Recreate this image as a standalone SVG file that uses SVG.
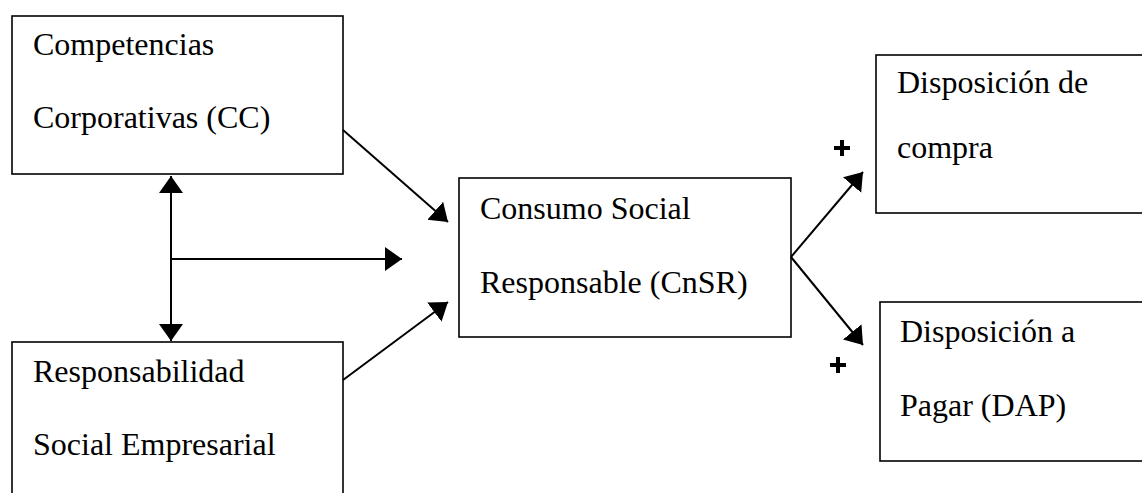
<svg xmlns="http://www.w3.org/2000/svg" width="1142" height="493" viewBox="0 0 1142 493">
<style>
.box{fill:none;stroke:#000;stroke-width:1.6}
.c{stroke:#000;stroke-width:2;fill:none}
</style>
<defs>
<marker id="ah" markerUnits="userSpaceOnUse" markerWidth="18" markerHeight="26" refX="17" refY="12" orient="auto-start-reverse" viewBox="0 0 18 26">
<path d="M0,0 L17,12 L0,24 z" fill="#000"/>
</marker>
</defs>
<rect width="1142" height="493" fill="#fff"/>
<g font-family="Liberation Serif, Times New Roman, serif" font-size="32" fill="#000">
<g id="cc">
<rect class="box" x="12" y="16" width="331" height="158"/>
<text x="33" y="55">Competencias</text>
<text x="33" y="128">Corporativas (CC)</text>
</g>
<g id="rse">
<rect class="box" x="12" y="342" width="331" height="170"/>
<text x="33" y="382">Responsabilidad</text>
<text x="33" y="455">Social Empresarial</text>
</g>
<g id="cnsr">
<rect class="box" x="459" y="178" width="332" height="159"/>
<text x="480" y="219">Consumo Social</text>
<text x="480" y="293">Responsable (CnSR)</text>
</g>
<g id="dc">
<rect class="box" x="876" y="55" width="280" height="158"/>
<text x="897" y="93">Disposición de</text>
<text x="897" y="158">compra</text>
</g>
<g id="dap">
<rect class="box" x="880" y="302" width="280" height="159"/>
<text x="900" y="342">Disposición a</text>
<text x="900" y="416">Pagar (DAP)</text>
</g>
</g>
<g id="connectors">
<line class="c" x1="171" y1="176" x2="171" y2="341" marker-start="url(#ah)" marker-end="url(#ah)"/>
<line class="c" x1="171" y1="259" x2="402" y2="259" marker-end="url(#ah)"/>
<line class="c" x1="343" y1="130" x2="448" y2="222" marker-end="url(#ah)"/>
<line class="c" x1="343" y1="380" x2="448" y2="302" marker-end="url(#ah)"/>
<line class="c" x1="791" y1="257" x2="863" y2="172" marker-end="url(#ah)"/>
<line class="c" x1="791" y1="257" x2="863" y2="345" marker-end="url(#ah)"/>
<path d="M842,140 v16 M834,148 h16 M838,357 v16 M830,365 h16" stroke="#000" stroke-width="4" fill="none"/>
</g>
</svg>
